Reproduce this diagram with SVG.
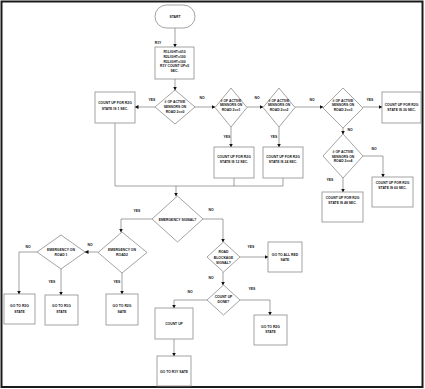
<svg xmlns="http://www.w3.org/2000/svg" width="425" height="389" viewBox="0 0 425 389">
<defs>
<marker id="ah" markerWidth="4" markerHeight="4" refX="3.5" refY="2" orient="auto" markerUnits="userSpaceOnUse">
<path d="M0,0 L4,2 L0,4 Z" fill="#111"/>
</marker>
<style>
.s{fill:#fff;stroke:#8c8c8c;stroke-width:0.8}
.c{fill:none;stroke:#7a7a7a;stroke-width:0.7}
.a{marker-end:url(#ah)}
text{font-family:"Liberation Sans",Arial,sans-serif;font-weight:bold;font-size:3.4px;fill:#111;text-anchor:middle}
.l{font-size:3.4px}
</style>
</defs>
<rect x="0" y="0" width="425" height="389" fill="#fff"/>
<rect x="1.5" y="1.5" width="421" height="385.5" fill="none" stroke="#1a1a1a" stroke-width="2"/>

<g id="connectors">
<path class="c a" d="M175,28 V47"/>
<path class="c a" d="M175,79 V90"/>
<path class="c a" d="M155,107 H135"/>
<path class="c a" d="M195,107 H215"/>
<path class="c a" d="M247,107 H263"/>
<path class="c a" d="M295,107 H323"/>
<path class="c a" d="M363,107 H382"/>
<path class="c a" d="M231,127 V147"/>
<path class="c a" d="M279,127 V147"/>
<path class="c a" d="M343,128 V134"/>
<path class="c a" d="M363,156 H383 V177"/>
<path class="c a" d="M343,178 V192"/>
<path class="c" d="M115,123 V186 H283 M234,178 V186 M283,178 V186"/>
<path class="c a" d="M176,186 V196"/>
<path class="c a" d="M152,219 H121 V232"/>
<path class="c a" d="M203,219 H223 V242"/>
<path class="c a" d="M98,252 H85"/>
<path class="c a" d="M37,252 H19 V294"/>
<path class="c a" d="M61,269 V295"/>
<path class="c a" d="M122,273 V294"/>
<path class="c a" d="M240,257 H268"/>
<path class="c a" d="M223,272 V285"/>
<path class="c a" d="M240,300 H270 V315"/>
<path class="c a" d="M207,300 H174 V308"/>
<path class="c a" d="M174,339 V356"/>
<text x="152" y="101" class="l">YES</text>
<text x="202" y="98.5" class="l">NO</text>
<text x="257" y="98.5" class="l">NO</text>
<text x="312" y="101" class="l">NO</text>
<text x="370" y="101" class="l">YES</text>
<text x="227" y="138" class="l">YES</text>
<text x="274" y="138" class="l">YES</text>
<text x="350" y="131" class="l">NO</text>
<text x="374" y="150" class="l">NO</text>
<text x="330" y="181" class="l">YES</text>
<text x="137" y="212" class="l">YES</text>
<text x="211" y="211" class="l">NO</text>
<text x="90" y="246" class="l">NO</text>
<text x="28" y="248" class="l">NO</text>
<text x="52" y="283" class="l">YES</text>
<text x="117" y="283" class="l">YES</text>
<text x="251" y="248" class="l">YES</text>
<text x="211" y="279" class="l">NO</text>
<text x="252" y="290" class="l">YES</text>
<text x="190" y="293" class="l">NO</text>
</g>

<g id="start">
<rect class="s" x="155" y="5" width="40" height="23" rx="11.5"/>
<text x="175" y="18">START</text>
</g>

<g id="init">
<text x="158" y="44">R1Y</text>
<rect class="s" x="155" y="47" width="39" height="32"/>
<text x="174.5" y="53">R1LIGHT=010</text>
<text x="174.5" y="57.8">R2LIGHT=100</text>
<text x="174.5" y="62.6">R3LIGHT=100</text>
<text x="174.5" y="67.4">R1Y COUNT UP=5</text>
<text x="174.5" y="72.2">SEC.</text>
</g>

<g id="d1">
<polygon class="s" points="175,90 195,107 175,124 155,107"/>
<text x="175" y="103">&#35; OF ACTIVE</text>
<text x="175" y="108">SENSORS ON</text>
<text x="175" y="113">ROAD 2==0</text>
</g>

<g id="box1">
<rect class="s" x="95" y="92" width="40" height="31"/>
<text x="115" y="104">COUNT UP FOR R2G</text>
<text x="115" y="109.5">STATE IS 1 SEC.</text>
</g>

<g id="d2">
<polygon class="s" points="231,88 247,107.5 231,127 215,107.5"/>
<text x="231" y="101.5">&#35; OF ACTIVE</text>
<text x="231" y="106">SENSORS ON</text>
<text x="231" y="110.5">ROAD 2==1</text>
</g>

<g id="d3">
<polygon class="s" points="279,88 295,107.5 279,127 263,107.5"/>
<text x="279" y="101.5">&#35; OF ACTIVE</text>
<text x="279" y="106">SENSORS ON</text>
<text x="279" y="110.5">ROAD 2==2</text>
</g>

<g id="d4">
<polygon class="s" points="343,88 363,108 343,128 323,108"/>
<text x="343" y="101.5">&#35; OF ACTIVE</text>
<text x="343" y="106">SENSORS ON</text>
<text x="343" y="110.5">ROAD 2==3</text>
</g>

<g id="box36">
<rect class="s" x="382" y="92" width="39" height="31"/>
<text x="401.5" y="105.5">COUNT UP FOR R2G</text>
<text x="401.5" y="110.5">STATE IS 36 SEC.</text>
</g>

<g id="box12">
<rect class="s" x="214" y="147" width="40" height="31"/>
<text x="234" y="158">COUNT UP FOR R2G</text>
<text x="234" y="162.5">STATE IS 12 SEC.</text>
</g>

<g id="box24">
<rect class="s" x="263" y="147" width="40" height="31"/>
<text x="283" y="158">COUNT UP FOR R2G</text>
<text x="283" y="162.5">STATE IS 24 SEC.</text>
</g>

<g id="d5">
<polygon class="s" points="343,134 363,156 343,178 323,156"/>
<text x="343" y="153">&#35; OF ACTIVE</text>
<text x="343" y="157.5">SENSORS ON</text>
<text x="343" y="162">ROAD 2==4</text>
</g>

<g id="box60">
<rect class="s" x="372" y="177" width="41" height="30"/>
<text x="392.5" y="184">COUNT UP FOR R2G</text>
<text x="392.5" y="189">STATE IS 60 SEC.</text>
</g>

<g id="box48">
<rect class="s" x="322" y="192" width="41" height="30"/>
<text x="342.5" y="199">COUNT UP FOR R2G</text>
<text x="342.5" y="204">STATE IS 48 SEC.</text>
</g>

<g id="emergency">
<polygon class="s" points="177.5,196 203,219 177.5,242 152,219"/>
<text x="177.5" y="220.5">EMERGENCY SIGNAL?</text>
</g>

<g id="road2">
<polygon class="s" points="122,232 147,252.5 122,273 98,252.5"/>
<text x="122" y="250.5">EMERGENCY ON</text>
<text x="122" y="256">ROAD2</text>
</g>

<g id="road1">
<polygon class="s" points="61,235 85,252 61,269 37,252"/>
<text x="61" y="250.5">EMERGENCY ON</text>
<text x="61" y="256">ROAD 1</text>
</g>

<g id="r3g">
<rect class="s" x="4" y="294" width="31" height="30"/>
<text x="19.5" y="307">GO TO R3G</text>
<text x="19.5" y="313">STATE</text>
</g>

<g id="r1g">
<rect class="s" x="45" y="295" width="33" height="30"/>
<text x="61.5" y="307">GO TO R1G</text>
<text x="61.5" y="313">STATE</text>
</g>

<g id="r2g">
<rect class="s" x="106" y="294" width="32" height="31"/>
<text x="122" y="307">GO TO R2G</text>
<text x="122" y="313">SATE</text>
</g>

<g id="blockage">
<polygon class="s" points="223.5,242 240,257 223.5,272 207,257"/>
<text x="223.5" y="253">ROAD</text>
<text x="223.5" y="258.5">BLOCKAGE</text>
<text x="223.5" y="264">SIGNAL?</text>
</g>

<g id="allred">
<rect class="s" x="268" y="242" width="34" height="30"/>
<text x="285" y="256">GO TO ALL RED</text>
<text x="285" y="261">SATE</text>
</g>

<g id="countdone">
<polygon class="s" points="223.5,285 240,300 223.5,315 207,300"/>
<text x="223.5" y="297.5">COUNT UP</text>
<text x="223.5" y="302.5">DONE?</text>
</g>

<g id="gonext">
<rect class="s" x="254" y="315" width="33" height="30"/>
<text x="270.5" y="328">GO TO R2G</text>
<text x="270.5" y="333">STATE</text>
</g>

<g id="countup">
<rect class="s" x="155" y="308" width="38" height="31"/>
<text x="174" y="325">COUNT UP</text>
</g>

<g id="r1y">
<rect class="s" x="157" y="356" width="34" height="30"/>
<text x="174" y="373">GO TO R1Y SATE</text>
</g>
</svg>
